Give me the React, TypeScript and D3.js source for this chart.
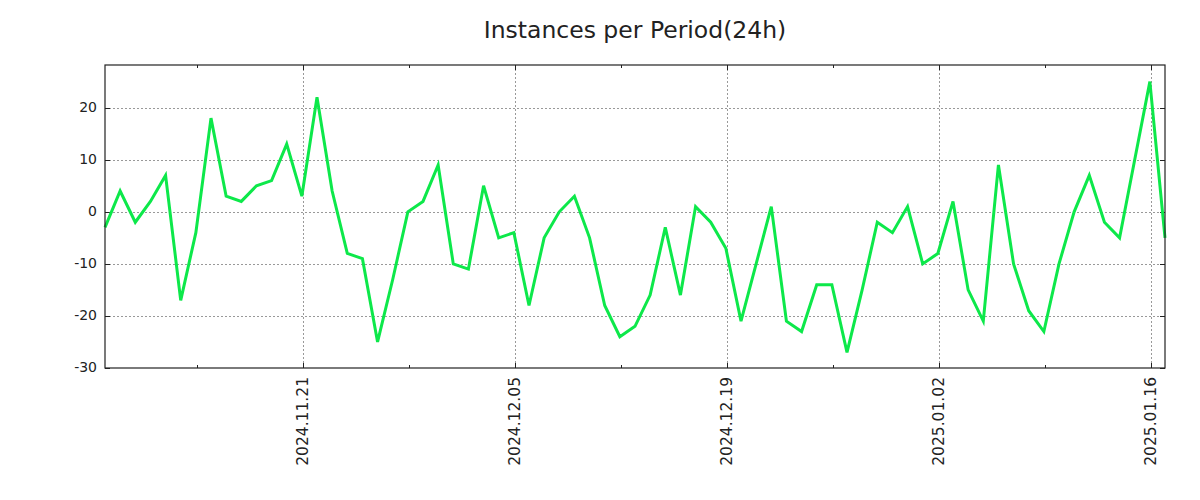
import React, { useEffect, useRef } from 'react';
import * as d3 from 'd3';

const title = 'Instances per Period(24h)';
const startDate = '2024-11-07T22:00:00';
const values = [
  -3, 4, -2, 2, 7, -17, -4, 18, 3, 2, 5, 6, 13, 3, 22, 4, -8, -9, -25, -13,
  0, 2, 9, -10, -11, 5, -5, -4, -18, -5, 0, 3, -5, -18, -24, -22, -16, -3, -16, 1,
  -2, -7, -21, -10, 1, -21, -23, -14, -14, -27, -15, -2, -4, 1, -10, -8, 2, -15, -21, 9,
  -10, -19, -23, -10, 0, 7, -2, -5, 10, 25, -5,
];
const majorTicks = ['2024-11-21', '2024-12-05', '2024-12-19', '2025-01-02', '2025-01-16'];
const minorTicks = ['2024-11-14', '2024-11-28', '2024-12-12', '2024-12-26', '2025-01-09'];
const yTicks = [-30, -20, -10, 0, 10, 20];

const App = () => {
  const svgRef = useRef(null);

  useEffect(() => {
    const width = 1200;
    const height = 500;
    const m = { left: 105, right: 35, top: 65, bottom: 132 };
    const svg = d3.select(svgRef.current);
    svg.selectAll('*').remove();

    const t0 = new Date(startDate);
    const data = values.map((v, i) => ({ date: d3.timeDay.offset(t0, i), value: v }));

    const x = d3.scaleTime()
      .domain(d3.extent(data, d => d.date))
      .range([m.left, width - m.right]);
    const y = d3.scaleLinear()
      .domain([-30, 28.2])
      .range([height - m.bottom, m.top]);

    const parse = d3.timeParse('%Y-%m-%d');
    const fmt = d3.timeFormat('%Y.%m.%d');
    const x0 = m.left, x1 = width - m.right, y0 = height - m.bottom, y1 = m.top;

    // grid
    const grid = svg.append('g').attr('stroke', '#999').attr('stroke-dasharray', '2,2');
    yTicks.filter(t => t > -30).forEach(t => {
      grid.append('line').attr('x1', x0).attr('x2', x1)
        .attr('y1', Math.round(y(t)) + 0.5).attr('y2', Math.round(y(t)) + 0.5);
    });
    majorTicks.forEach(d => {
      const px = Math.round(x(parse(d))) + 0.5;
      grid.append('line').attr('x1', px).attr('x2', px).attr('y1', y1).attr('y2', y0);
    });

    // ticks on all sides
    const tk = svg.append('g').attr('stroke', '#222').attr('stroke-width', 1);
    majorTicks.forEach(d => {
      const px = Math.round(x(parse(d))) + 0.5;
      tk.append('line').attr('x1', px).attr('x2', px).attr('y1', y0).attr('y2', y0 - 5);
      tk.append('line').attr('x1', px).attr('x2', px).attr('y1', y1).attr('y2', y1 + 5);
    });
    minorTicks.forEach(d => {
      const px = Math.round(x(parse(d))) + 0.5;
      tk.append('line').attr('x1', px).attr('x2', px).attr('y1', y0).attr('y2', y0 - 3);
      tk.append('line').attr('x1', px).attr('x2', px).attr('y1', y1).attr('y2', y1 + 3);
    });
    yTicks.forEach(t => {
      const py = Math.round(y(t)) + 0.5;
      tk.append('line').attr('x1', x0).attr('x2', x0 + 5).attr('y1', py).attr('y2', py);
      tk.append('line').attr('x1', x1).attr('x2', x1 - 5).attr('y1', py).attr('y2', py);
    });

    // line
    const line = d3.line()
      .x(d => x(d.date))
      .y(d => y(d.value));
    svg.append('path')
      .datum(data)
      .attr('fill', 'none')
      .attr('stroke', '#0de84a')
      .attr('stroke-width', 3)
      .attr('stroke-linejoin', 'miter')
      .attr('d', line);

    // frame
    svg.append('rect')
      .attr('x', x0).attr('y', y1)
      .attr('width', x1 - x0).attr('height', y0 - y1)
      .attr('fill', 'none').attr('stroke', '#222').attr('stroke-width', 1.2);

    // labels
    const font = 'DejaVu Sans, sans-serif';
    svg.append('g').selectAll('text')
      .data(yTicks)
      .enter()
      .append('text')
      .attr('x', x0 - 8)
      .attr('y', d => y(d) + 4)
      .attr('text-anchor', 'end')
      .attr('font-family', font)
      .attr('font-size', 14)
      .attr('fill', '#222')
      .text(d => d);

    svg.append('g').selectAll('text')
      .data(majorTicks)
      .enter()
      .append('text')
      .attr('transform', d => `translate(${x(parse(d)) + 4.5},${y0 + 9}) rotate(-90)`)
      .attr('text-anchor', 'end')
      .attr('font-family', font)
      .attr('font-size', 15.5)
      .attr('fill', '#222')
      .text(d => fmt(parse(d)));

    svg.append('text')
      .attr('x', (x0 + x1) / 2)
      .attr('y', 38)
      .attr('text-anchor', 'middle')
      .attr('font-family', font)
      .attr('font-size', 23.5)
      .attr('fill', '#222')
      .text(title);
  }, []);

  return (
    <svg ref={svgRef} width={1200} height={500}
      style={{ position: 'absolute', left: 0, top: 0, background: '#fff' }} />
  );
};

export default App;
